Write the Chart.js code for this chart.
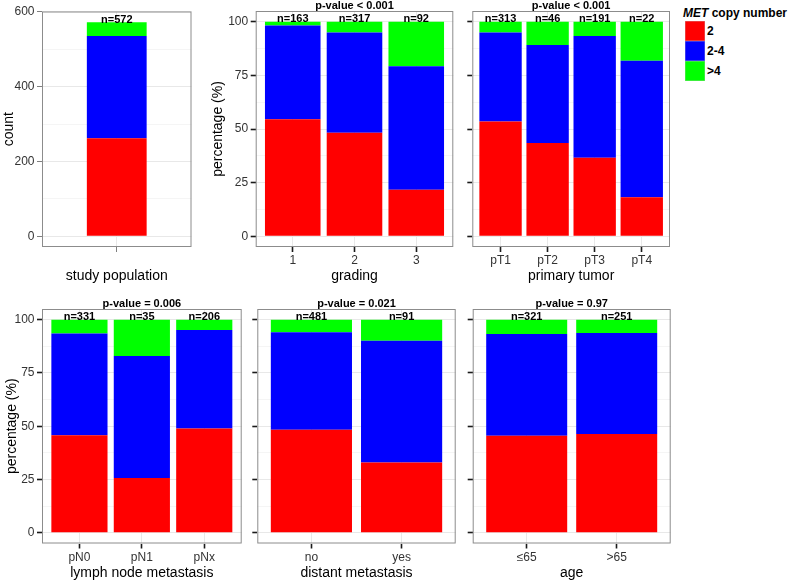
<!DOCTYPE html>
<html>
<head>
<meta charset="utf-8">
<script src="https://cdn.jsdelivr.net/npm/chart.js@4"></script>
<style>
  body { margin: 0; background: #fff; }
  #wrap { position: relative; width: 788px; height: 580px; overflow: hidden; font-family: "Liberation Sans", Arial, sans-serif; }
  #wrap canvas { position: absolute; }
  #legend { position: absolute; left: 683px; top: 6px; color: #000; font-weight: bold; font-size: 12px; }
  #legend .ltitle { height: 15px; line-height: 15px; white-space: nowrap; }
  #legend .key { height: 20px; line-height: 20px; margin-left: 2px; }
  #legend .key span { display: inline-block; width: 20px; height: 20px; vertical-align: top; margin-right: 2px; box-shadow: inset 0 0 0 0.5px rgba(200,200,200,0.6); }
</style>
</head>
<body>
<div id="wrap">
  <canvas id="c-study" width="200" height="290" style="left:0;top:0"></canvas>
  <canvas id="c-grading" width="260" height="290" style="left:200px;top:0"></canvas>
  <canvas id="c-tumor" width="220" height="290" style="left:460px;top:0"></canvas>
  <canvas id="c-lymph" width="250" height="290" style="left:0;top:290px"></canvas>
  <canvas id="c-distant" width="210" height="290" style="left:250px;top:290px"></canvas>
  <canvas id="c-age" width="220" height="290" style="left:460px;top:290px"></canvas>
  <div id="legend"></div>
</div>
<script>
// MET copy number classes
const copyNumbers = ['2', '2-4', '>4'];
const colours = ['#ff0000', '#0000ff', '#00ff00'];

// study population (counts)
const studyCats = [''];
const study2 = [262];
const study24 = [273];
const study4 = [37];
const studyN = [572];

// grading (%)
const gradingCats = ['1', '2', '3'];
const grading2 = [54.6, 48.3, 21.7];
const grading24 = [43.6, 46.7, 57.6];
const grading4 = [1.8, 5.0, 20.7];
const gradingN = [163, 317, 92];

// primary tumor (%)
const tumorCats = ['pT1', 'pT2', 'pT3', 'pT4'];
const tumor2 = [53.5, 43.5, 36.6, 18.2];
const tumor24 = [41.5, 45.6, 56.7, 63.6];
const tumor4 = [5.0, 10.9, 6.7, 18.2];
const tumorN = [313, 46, 191, 22];

// lymph node metastasis (%)
const lymphCats = ['pN0', 'pN1', 'pNx'];
const lymph2 = [45.8, 25.7, 48.9];
const lymph24 = [47.7, 57.2, 46.3];
const lymph4 = [6.5, 17.1, 4.8];
const lymphN = [331, 35, 206];

// distant metastasis (%)
const distantCats = ['no', 'yes'];
const distant2 = [48.4, 33.0];
const distant24 = [45.7, 57.1];
const distant4 = [5.9, 9.9];
const distantN = [481, 91];

// age (%)
const ageCats = ['\u226465', '>65'];
const age2 = [45.6, 46.4];
const age24 = [47.7, 47.4];
const age4 = [6.7, 6.2];
const ageN = [321, 251];

const countTicks = [0, 200, 400, 600];
const pctTicks = [0, 25, 50, 75, 100];

Chart.defaults.font.family = '"Liberation Sans", Arial, sans-serif';
Chart.defaults.color = '#333';

// panel frame, n= labels and p-value heading
const panelDecor = {
  id: 'panelDecor',
  afterDatasetsDraw(chart, args, opts) {
    const { ctx, chartArea: a, scales } = chart;
    ctx.save();
    ctx.strokeStyle = '#8c8c8c';
    ctx.lineWidth = 1;
    ctx.strokeRect(a.left + 0.5, a.top + 0.5, a.width - 1, a.height - 1);
    ctx.fillStyle = '#000';
    ctx.textAlign = 'center';
    ctx.font = 'bold 11px "Liberation Sans", Arial, sans-serif';
    ctx.textBaseline = 'alphabetic';
    opts.labels.forEach((lab, i) => {
      ctx.fillText(lab, scales.x.getPixelForValue(i), scales.y.getPixelForValue(opts.tops[i]) + 0.5);
    });
    if (opts.pValue) {
      ctx.textBaseline = 'middle';
      ctx.fillText(opts.pValue, (a.left + a.right) / 2, a.top - 5.5);
    }
    ctx.restore();
  }
};

function makePanel(p, lay) {
  const n = p.cats.length;
  const stacks = p.cats.map((c, i) => p.series.reduce((s, arr) => s + arr[i], 0));
  const top = p.percent ? 100 : Math.max(...stacks);
  const yTicks = [];
  p.ticks.forEach((v, i) => {
    yTicks.push({ value: v });
    if (i < p.ticks.length - 1) yTicks.push({ value: (v + p.ticks[i + 1]) / 2, minor: true });
  });
  const isMinor = c => c.tick && c.tick.minor;

  new Chart(document.getElementById(p.id), {
    type: 'bar',
    data: {
      datasets: p.series.map((arr, k) => ({
        label: copyNumbers[k],
        data: arr.map((v, i) => ({ x: i, y: v })),
        backgroundColor: colours[k],
        borderWidth: 0,
        barPercentage: lay.barPct,
        categoryPercentage: 1
      }))
    },
    options: {
      responsive: false,
      animation: false,
      layout: { padding: lay.pad },
      plugins: {
        legend: { display: false },
        tooltip: { enabled: false },
        panelDecor: {
          labels: p.n.map(v => 'n=' + v),
          tops: p.percent ? p.cats.map(() => 100) : stacks,
          pValue: p.pValue
        }
      },
      scales: {
        x: {
          type: 'linear', stacked: true, bounds: 'data', offset: false,
          min: -0.6, max: n - 0.4,
          afterBuildTicks: s => { s.ticks = p.cats.map((c, i) => ({ value: i })); },
          afterFit: s => { s.height = lay.xh; },
          grid: { offset: false, color: '#e8e8e8', tickColor: lay.tickCol, tickWidth: lay.tickW, tickLength: 5 },
          border: { display: false },
          ticks: { padding: 1.5, color: '#333', font: { size: 12 }, autoSkip: false, maxRotation: 0,
                   callback: (v, i) => p.cats[i] },
          title: { display: true, text: p.xTitle, color: '#000', font: { size: 14, lineHeight: 1 },
                   padding: { top: 0, bottom: lay.xtp } }
        },
        y: {
          type: 'linear', stacked: true, bounds: 'data',
          min: -0.05 * top, max: 1.05 * top,
          afterBuildTicks: s => { s.ticks = yTicks.map(t => ({ ...t })); },
          afterFit: s => { s.width = lay.yw; },
          grid: {
            color: c => isMinor(c) ? '#f5f5f5' : '#e8e8e8',
            tickColor: c => isMinor(c) ? 'rgba(0,0,0,0)' : lay.tickCol,
            tickWidth: lay.tickW, tickLength: 5
          },
          border: { display: false },
          ticks: { display: lay.yLabels, padding: 2.5, color: '#333', font: { size: 12 }, autoSkip: false,
                   callback: (v, i, t) => t[i].minor ? '' : v },
          title: { display: !!p.yTitle, text: p.yTitle, color: '#000', font: { size: 14, lineHeight: 1 },
                   padding: { top: lay.ytp, bottom: 0 } }
        }
      }
    },
    plugins: [panelDecor]
  });
}

makePanel(
  { id: 'c-study', cats: studyCats, series: [study2, study24, study4], n: studyN, percent: false,
    ticks: countTicks, xTitle: 'study population', yTitle: 'count' },
  { pad: { left: 0, top: 11.5, right: 8.5, bottom: 0 }, yw: 42, xh: 43, ytp: 2, xtp: 7,
    barPct: 0.4, yLabels: true, tickCol: '#7f7f7f', tickW: 1 });

makePanel(
  { id: 'c-grading', cats: gradingCats, series: [grading2, grading24, grading4], n: gradingN, percent: true,
    ticks: pctTicks, xTitle: 'grading', yTitle: 'percentage (%)', pValue: 'p-value < 0.001' },
  { pad: { left: 0, top: 11, right: 6.7, bottom: 0 }, yw: 55.7, xh: 43, ytp: 11, xtp: 7,
    barPct: 0.9, yLabels: true, tickCol: '#1a1a1a', tickW: 1.6 });

makePanel(
  { id: 'c-tumor', cats: tumorCats, series: [tumor2, tumor24, tumor4], n: tumorN, percent: true,
    ticks: pctTicks, xTitle: 'primary tumor', pValue: 'p-value < 0.001' },
  { pad: { left: 0, top: 11, right: 10, bottom: 0 }, yw: 12.3, xh: 43, ytp: 0, xtp: 7,
    barPct: 0.9, yLabels: false, tickCol: '#1a1a1a', tickW: 1.6 });

makePanel(
  { id: 'c-lymph', cats: lymphCats, series: [lymph2, lymph24, lymph4], n: lymphN, percent: true,
    ticks: pctTicks, xTitle: 'lymph node metastasis', yTitle: 'percentage (%)', pValue: 'p-value = 0.006' },
  { pad: { left: 0, top: 19, right: 8.3, bottom: 0 }, yw: 42, xh: 36.5, ytp: 5, xtp: 0,
    barPct: 0.9, yLabels: true, tickCol: '#1a1a1a', tickW: 1.6 });

makePanel(
  { id: 'c-distant', cats: distantCats, series: [distant2, distant24, distant4], n: distantN, percent: true,
    ticks: pctTicks, xTitle: 'distant metastasis', pValue: 'p-value = 0.021' },
  { pad: { left: 0, top: 19, right: 4.3, bottom: 0 }, yw: 7.3, xh: 36.5, ytp: 0, xtp: 0,
    barPct: 0.9, yLabels: false, tickCol: '#1a1a1a', tickW: 1.6 });

makePanel(
  { id: 'c-age', cats: ageCats, series: [age2, age24, age4], n: ageN, percent: true,
    ticks: pctTicks, xTitle: 'age', pValue: 'p-value = 0.97' },
  { pad: { left: 0, top: 19, right: 9.3, bottom: 0 }, yw: 12.7, xh: 36.5, ytp: 0, xtp: 0,
    barPct: 0.9, yLabels: false, tickCol: '#1a1a1a', tickW: 1.6 });

// legend
const legend = document.getElementById('legend');
legend.innerHTML = '<div class="ltitle"><i>MET</i> copy number</div>' +
  copyNumbers.map((c, k) => '<div class="key"><span style="background:' + colours[k] + '"></span>' + c + '</div>').join('');
</script>
</body>
</html>
